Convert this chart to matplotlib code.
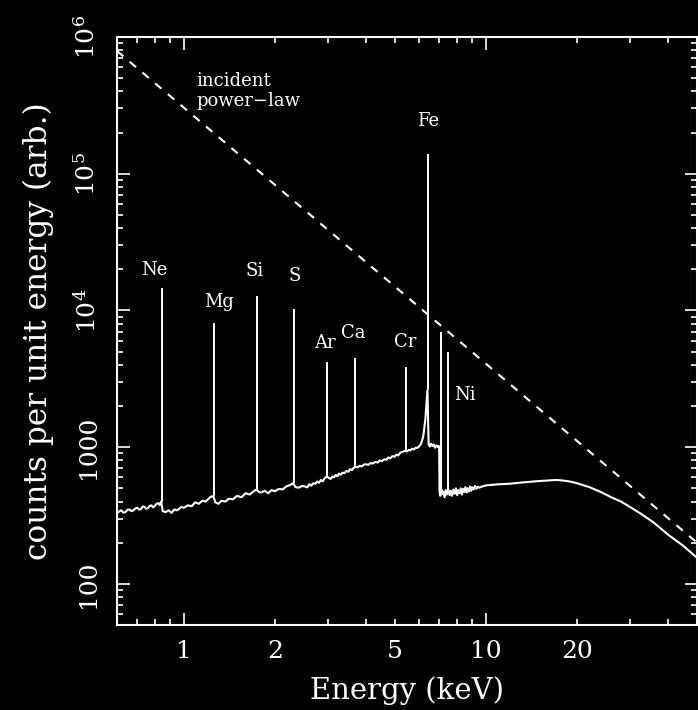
import numpy as np
import matplotlib
matplotlib.use('Agg')
import matplotlib.pyplot as plt

# continuum (keV, counts)
energy = [0.60, 0.61, 0.62, 0.63, 0.64, 0.65, 0.66, 0.67, 0.68, 0.69, 0.70, 0.71, 0.72,
          0.73, 0.74, 0.75, 0.76, 0.77, 0.78, 0.79, 0.80, 0.81, 0.82, 0.83, 0.84,
          0.85, 0.87, 0.89, 0.91, 0.93, 0.95, 0.98, 1.00, 1.03, 1.06, 1.09, 1.12, 1.15,
          1.18, 1.22, 1.25, 1.27, 1.30, 1.33, 1.37, 1.41, 1.45, 1.50, 1.55, 1.60, 1.65,
          1.70, 1.74, 1.77, 1.80, 1.85, 1.90, 1.95, 2.00, 2.06, 2.12, 2.18, 2.25, 2.30,
          2.34, 2.40, 2.46, 2.52, 2.56, 2.60, 2.64, 2.68, 2.72, 2.76, 2.80, 2.84, 2.88,
          2.92, 2.97, 3.02, 3.06, 3.10, 3.14, 3.18, 3.22, 3.26, 3.30, 3.35, 3.40, 3.45,
          3.50, 3.55, 3.60, 3.65, 3.70, 3.76, 3.82, 3.88, 3.94, 4.00, 4.08, 4.15, 4.22,
          4.30, 4.38, 4.45, 4.52, 4.60, 4.68, 4.75, 4.82, 4.90, 4.98, 5.05, 5.12, 5.20,
          5.30, 5.40, 5.48, 5.55, 5.62, 5.70, 5.78, 5.85, 5.92, 6.00, 6.10, 6.20, 6.30,
          6.40, 6.46, 6.52, 6.58, 6.65, 6.72, 6.78, 6.85, 6.92, 6.97, 7.00, 7.02, 7.06,
          7.12, 7.18, 7.24, 7.30, 7.36, 7.42, 7.50, 7.58, 7.65, 7.72, 7.80, 7.88, 7.95,
          8.03, 8.10, 8.18, 8.25, 8.33, 8.40, 8.48, 8.55, 8.63, 8.70, 8.78, 8.85, 8.93,
          9.00, 9.10, 9.20, 9.30, 9.40, 9.50, 9.70, 10.0, 10.5, 11.0, 12.0, 13.0, 14.0,
          15.0, 16.0, 17.0, 18.0, 19.0, 20.0, 22.0, 24.0, 26.0, 28.0, 30.0, 33.0, 36.0,
          40.0, 45.0, 50.0]
counts = [330, 338, 345, 332, 335, 348, 350, 340, 345, 356, 360, 349, 352,
          368, 365, 354, 358, 372, 375, 362, 370, 384, 390, 378, 400,
          340, 335, 345, 330, 350, 345, 365, 360, 375, 370, 395, 385, 405,
          400, 430, 440, 395, 385, 405, 400, 420, 415, 440, 430, 460, 450,
          475, 490, 470, 465, 480, 460, 485, 475, 495, 490, 515, 530, 545,
          510, 505, 520, 515, 508, 535, 522, 545, 538, 560, 548, 575, 562,
          590, 610, 595, 585, 610, 602, 625, 612, 640, 628, 650, 645, 670,
          660, 690, 680, 705, 720, 712, 730, 722, 745, 750, 742, 765, 758,
          780, 772, 800, 790, 815, 808, 840, 828, 860, 850, 880, 870, 910,
          925, 940, 930, 955, 948, 975, 962, 990, 985, 1010, 1060, 1200, 1600,
          2600, 1050, 1010, 1060, 1020, 1045, 990, 1030, 1000, 1020, 990, 470, 440,
          490, 455, 470, 430, 485, 450, 495, 445, 480, 440, 490, 455, 500,
          445, 485, 460, 500, 450, 495, 470, 510, 465, 500, 475, 515, 480,
          510, 490, 520, 495, 515, 505, 515, 525, 530, 535, 540, 550, 558,
          565, 570, 575, 570, 560, 545, 510, 470, 430, 400, 365, 320, 280,
          230, 190, 155]

# fluorescence lines: energy, base, peak
line_names = ['Ne', 'Mg', 'Si', 'S', 'Ar', 'Ca', 'Cr', 'Fe', '', 'Ni']
line_energy = [0.846, 1.257, 1.745, 2.31, 2.97, 3.69, 5.42, 6.43, 7.08, 7.48]
line_base = [400, 440, 490, 545, 610, 715, 940, 2600, 470, 460]
line_peak = [14500, 8040, 12650, 10200, 4170, 4450, 3840, 140000, 6900, 4930]

# incident power law, two end points
pl_energy = [0.6, 50.0]
pl_counts = [790000, 200]

# where the element names sit (data coords)
label_pos = {'Ne': (0.80, 19600), 'Mg': (1.306, 11430), 'Si': (1.718, 19270),
             'S': (2.33, 18000), 'Ar': (2.93, 5740), 'Ca': (3.63, 6790),
             'Cr': (5.39, 5840), 'Fe': (6.43, 243800), 'Ni': (8.52, 2400)}

plt.rcParams['font.family'] = ['DejaVu Serif']
plt.rcParams['mathtext.fontset'] = 'dejavuserif'

fig = plt.figure(figsize=(6.98, 7.10), dpi=100, facecolor='black')
ax = fig.add_axes([0.1676, 0.1197, 0.831, 0.8282])
ax.set_facecolor('black')

ax.plot(energy, counts, color='white', lw=1.5)
ax.vlines(line_energy, line_base, line_peak, color='white', lw=1.4)
ax.plot(pl_energy, pl_counts, color='white', lw=1.5, dashes=(4, 4))

ax.set_xscale('log')
ax.set_yscale('log')
ax.set_xlim(0.6, 50)
ax.set_ylim(50, 1e6)

for name, (x, y) in label_pos.items():
    ax.text(x, y, name, color='white', fontsize=13, ha='center', va='center')
ax.text(1.096, 477000, 'incident', color='white', fontsize=13,
        ha='left', va='center')
ax.text(1.096, 341000, 'power\u2212law', color='white', fontsize=13,
        ha='left', va='center')

# ticks
ax.set_xticks([1, 10], ['1', '10'])
xminor = [0.7, 0.8, 0.9, 2, 3, 4, 5, 6, 7, 8, 9, 20, 30, 40]
xminor_lab = ['', '', '', '2', '', '', '5', '', '', '', '', '20', '', '']
ax.set_xticks(xminor, xminor_lab, minor=True)

ax.set_yticks([100, 1000, 1e4, 1e5, 1e6],
              ['100', '1000', r'$10^4$', r'$10^5$', r'$10^6$'])
yminor = [m * d for d in [10, 100, 1000, 1e4, 1e5] for m in range(2, 10)]
ax.set_yticks([v for v in yminor if v >= 50], minor=True)
ax.tick_params(axis='y', which='minor', labelleft=False)

ax.tick_params(which='both', direction='in', top=True, right=True,
               colors='white', labelsize=18, width=1.2)
ax.tick_params(which='major', length=9)
ax.tick_params(which='minor', length=4.5)
ax.tick_params(axis='x', which='both', pad=11)
ax.tick_params(axis='y', which='both', pad=12)
for lab in ax.get_yticklabels():
    lab.set_rotation(90)
    lab.set_va('center')

for s in ax.spines.values():
    s.set_color('white')
    s.set_linewidth(1.5)

ax.set_xlabel('Energy (keV)', color='white', fontsize=21, labelpad=9)
ax.set_ylabel('counts per unit energy (arb.)', color='white', fontsize=22.5,
              labelpad=14)

fig.savefig('out.png', dpi=100, facecolor='black')
